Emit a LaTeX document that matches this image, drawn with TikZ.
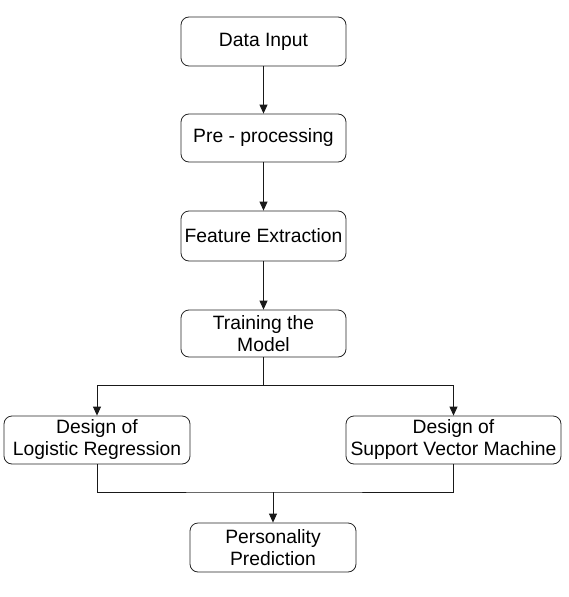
\documentclass[tikz,border=0pt]{standalone}
\usepackage{fontspec}
\setmainfont{Liberation Sans}
\usetikzlibrary{arrows.meta}
\tikzset{
  stagebox/.style={draw=black!85,line width=0.8pt,rounded corners=8pt,align=center,inner sep=0pt,
    font=\fontsize{19.3}{22}\selectfont},
  flow/.style={line width=0.8pt,draw=black!90,-{Triangle[length=9pt,width=8pt]}},
  link/.style={line width=0.8pt,draw=black!90}
}
\begin{document}
\begin{tikzpicture}[x=1pt,y=1pt]
\useasboundingbox (0,0) rectangle (568,-597);
\node[stagebox,minimum width=165,minimum height=49] (input) at (263.5,-41.5) {Data Input};
\node[stagebox,minimum width=165,minimum height=48] (prep) at (263.5,-138) {Pre - processing};
\node[stagebox,minimum width=165,minimum height=50] (feat) at (263.5,-236) {Feature Extraction};
\node[stagebox,minimum width=165,minimum height=47] (train) at (263.5,-333.5) {Training the\\ Model};
\node[stagebox,minimum width=186,minimum height=48] (lr) at (97,-440) {Design of\\Logistic Regression};
\node[stagebox,minimum width=215,minimum height=48] (svm) at (453.5,-440) {Design of\\Support Vector Machine};
\node[stagebox,minimum width=166,minimum height=49] (pred) at (273,-547.5) {Personality\\Prediction};
\coordinate (split) at (263.5,-385);
\coordinate (join) at (273,-492);

\draw[flow] (input) -- (prep);
\draw[flow] (prep) -- (feat);
\draw[flow] (feat) -- (train);
\draw[link] (train) -- (split);
\draw[flow] (split) -| (lr);
\draw[flow] (split) -| (svm);
\draw[link] (lr.south) |- (join) -| (svm.south);
\draw[flow] (join) -- (pred);

\end{tikzpicture}
\end{document}
